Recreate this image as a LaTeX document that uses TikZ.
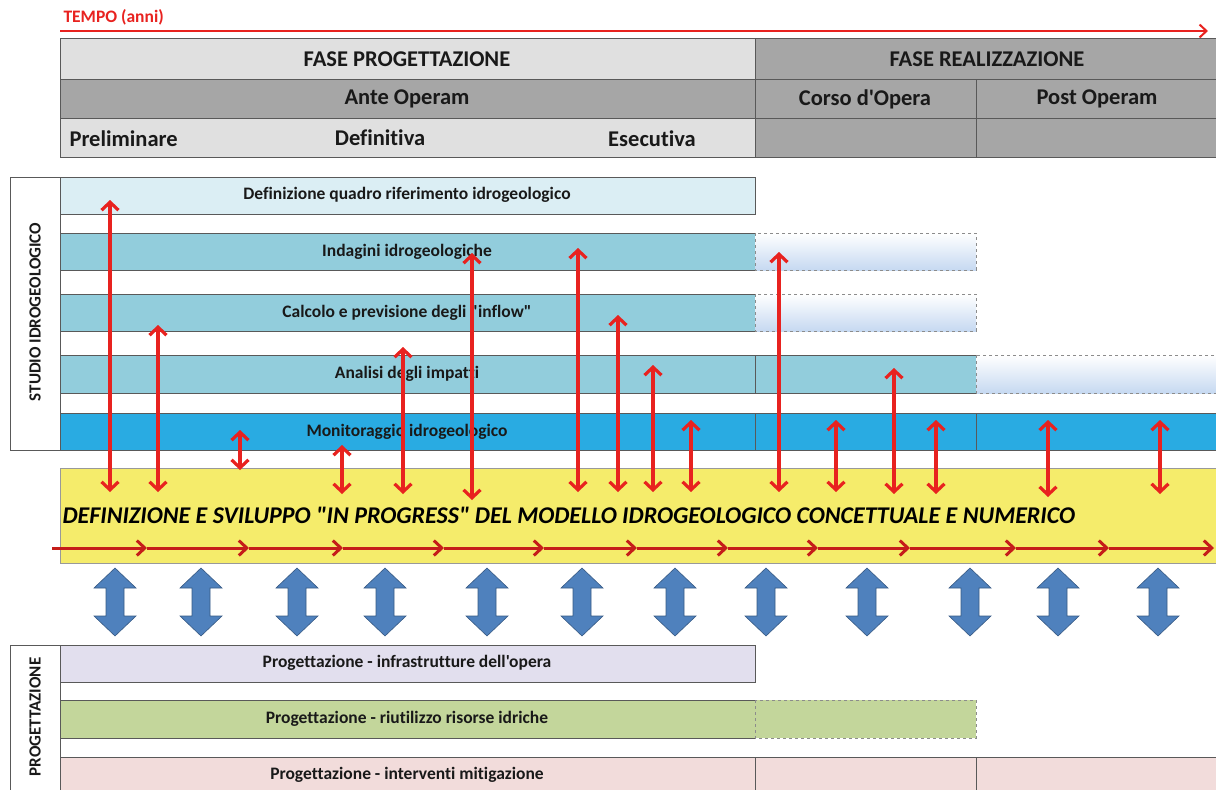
\documentclass[tikz,border=0pt]{standalone}
\usepackage{fontspec}
\setmainfont{Carlito}[Ligatures={TeXOff,NoCommon}]
\usetikzlibrary{arrows.meta}
\definecolor{hdrlight}{HTML}{E0E0E0}
\definecolor{hdrdark}{HTML}{A6A6A6}
\definecolor{quadro}{HTML}{DBEEF4}
\definecolor{barteal}{HTML}{92CDDC}
\definecolor{monit}{HTML}{29ABE2}
\definecolor{fadeblue}{HTML}{C6D9F1}
\definecolor{yband}{HTML}{F5EC6B}
\definecolor{arrred}{HTML}{E8221F}
\definecolor{bigblue}{HTML}{4F81BD}
\definecolor{infra}{HTML}{E2DFEE}
\definecolor{riuso}{HTML}{C3D69B}
\definecolor{mitig}{HTML}{F2DCDB}
\tikzset{
  cell/.style={draw=black!65, line width=0.8pt},
  fadebar/.style={draw=black!45, dashed, line width=0.7pt, top color=white, bottom color=fadeblue},
  hdr/.style={font=\bfseries\fontsize{22.5}{24}\selectfont, text=black!90},
  lbl/.style={font=\bfseries\fontsize{17.5}{19}\selectfont, text=black!90},
  side/.style={font=\bfseries\fontsize{17}{19}\selectfont, text=black!90, rotate=90},
  link/.style={draw=arrred, line width=3.2pt,
    {Straight Barb[length=8pt,width=17pt]}-{Straight Barb[length=8pt,width=17pt]}},
  flow/.style={draw=arrred!85!black, line width=3pt, -{Straight Barb[length=8pt,width=15pt]}}
}
\begin{document}
\begin{tikzpicture}[x=1pt,y=-1pt]
  \useasboundingbox (0,0) rectangle (1216,790);
  % time axis
  \node[anchor=west, text=arrred, font=\bfseries\fontsize{17.5}{19}\selectfont] (tempo) at (60,17) {TEMPO (anni)};
  \coordinate (t0) at (60,31);
  \coordinate (t1) at (1208,31);
  \draw[draw=arrred, line width=2pt, -{Straight Barb[length=7pt,width=13pt]}] (t0) -- (t1);

  % header table
  \draw[cell, fill=hdrlight] (60,38) rectangle (755,79);
  \draw[cell, fill=hdrdark] (755,38) rectangle (1222,79);
  \draw[cell, fill=hdrdark] (60,79) rectangle (755,118);
  \draw[cell, fill=hdrdark] (755,79) rectangle (976,118);
  \draw[cell, fill=hdrdark] (976,79) rectangle (1222,118);
  \draw[cell, fill=hdrlight] (60,118) rectangle (755,157);
  \draw[cell, fill=hdrdark] (755,118) rectangle (976,157);
  \draw[cell, fill=hdrdark] (976,118) rectangle (1222,157);
  \node[hdr] (fprog) at (407,59) {FASE PROGETTAZIONE};
  \node[hdr] (freal) at (987,59) {FASE REALIZZAZIONE};
  \node[hdr] (ante) at (407,99) {Ante Operam};
  \node[hdr] (corso) at (865,99) {Corso d'Opera};
  \node[hdr] (post) at (1097,99) {Post Operam};
  \node[hdr, anchor=west] (prelim) at (66,139) {Preliminare};
  \node[hdr] (defin) at (380,138) {Definitiva};
  \node[hdr] (esec) at (652,139) {Esecutiva};

  % studio idrogeologico
  \draw[cell] (10,177) rectangle (60,450);
  \node[side] (studio) at (35,312) {STUDIO IDROGEOLOGICO};
  \draw[cell, fill=quadro] (60,177) rectangle (755,214);
  \draw[cell, fill=barteal] (60,233) rectangle (755,270);
  \draw[fadebar] (755,233) rectangle (976,270);
  \draw[cell, fill=barteal] (60,294) rectangle (755,331);
  \draw[fadebar] (755,294) rectangle (976,331);
  \draw[cell, fill=barteal] (60,355) rectangle (755,393);
  \draw[cell, fill=barteal] (755,355) rectangle (976,393);
  \draw[fadebar] (976,355) rectangle (1222,393);
  \draw[cell, fill=monit] (60,413) rectangle (755,450);
  \draw[cell, fill=monit] (755,413) rectangle (976,450);
  \draw[cell, fill=monit] (976,413) rectangle (1222,450);
  \node[lbl] (quadrotxt) at (407,195) {Definizione quadro riferimento idrogeologico};
  \node[lbl] (indagini) at (407,252) {Indagini idrogeologiche};
  \node[lbl] (calcolo) at (407,313) {Calcolo e previsione degli "inflow"};
  \node[lbl] (analisi) at (407,374) {Analisi degli impatti};
  \node[lbl] (monitor) at (407,432) {Monitoraggio idrogeologico};

  % modello in progress
  \draw[draw=black!40, line width=0.8pt, fill=yband] (60,468) rectangle (1222,563);
  \node[anchor=west, font=\bfseries\itshape\fontsize{24}{26}\selectfont] (modello) at (59,515)
    {DEFINIZIONE E SVILUPPO "IN PROGRESS" DEL MODELLO IDROGEOLOGICO CONCETTUALE E NUMERICO};
  \foreach \xa/\xb [count=\i] in {52/147,147/249,249/343,343/444,444/544,544/637,637/728,728/818,818/910,910/1016,1016/1109,1109/1214} {
    \coordinate (fa\i) at (\xa,548);
    \coordinate (fb\i) at (\xb,548);
    \draw[flow] (fa\i) -- (fb\i);
  }

  % scambi modello / progettazione
  \foreach \x in {115,201,297,385,487,582,675,766,867,970,1058,1158}
    \filldraw[fill=bigblue, draw=bigblue!70!black, line width=0.6pt]
      (\x,568) -- ++(21,20) -- ++(-12,0) -- ++(0,28) -- ++(12,0) -- (\x,636)
      -- ++(-21,-20) -- ++(12,0) -- ++(0,-28) -- ++(-12,0) -- cycle;

  % progettazione
  \draw[cell] (10,645) rectangle (60,800);
  \node[side] (proget) at (35,717) {PROGETTAZIONE};
  \draw[cell, fill=infra] (60,645) rectangle (755,682);
  \draw[cell, fill=riuso] (60,700) rectangle (755,738);
  \draw[draw=black!45, dashed, line width=0.7pt, fill=riuso] (755,700) rectangle (976,738);
  \draw[cell, fill=mitig] (60,757) rectangle (755,800);
  \draw[cell, fill=mitig] (755,757) rectangle (976,800);
  \draw[cell, fill=mitig] (976,757) rectangle (1222,800);
  \node[lbl] (infratxt) at (407,663) {Progettazione - infrastrutture dell'opera};
  \node[lbl] (riusotxt) at (407,719) {Progettazione - riutilizzo risorse idriche};
  \node[lbl] (mitigtxt) at (407,775) {Progettazione - interventi mitigazione};

  % studio <-> modello
  \foreach \x/\ya/\yb [count=\i] in {110/200/492,158/325/492,240/430/470,342/445/494,403/347/494,
      472/253/500,578/248/492,618/315/492,653/365/492,691/420/492,779/252/492,836/420/492,
      894/368/494,936/420/494,1048/420/497,1160/420/494} {
    \coordinate (up\i) at (\x,\ya);
    \coordinate (dn\i) at (\x,\yb);
    \draw[link] (up\i) -- (dn\i);
  }
\end{tikzpicture}
\end{document}
